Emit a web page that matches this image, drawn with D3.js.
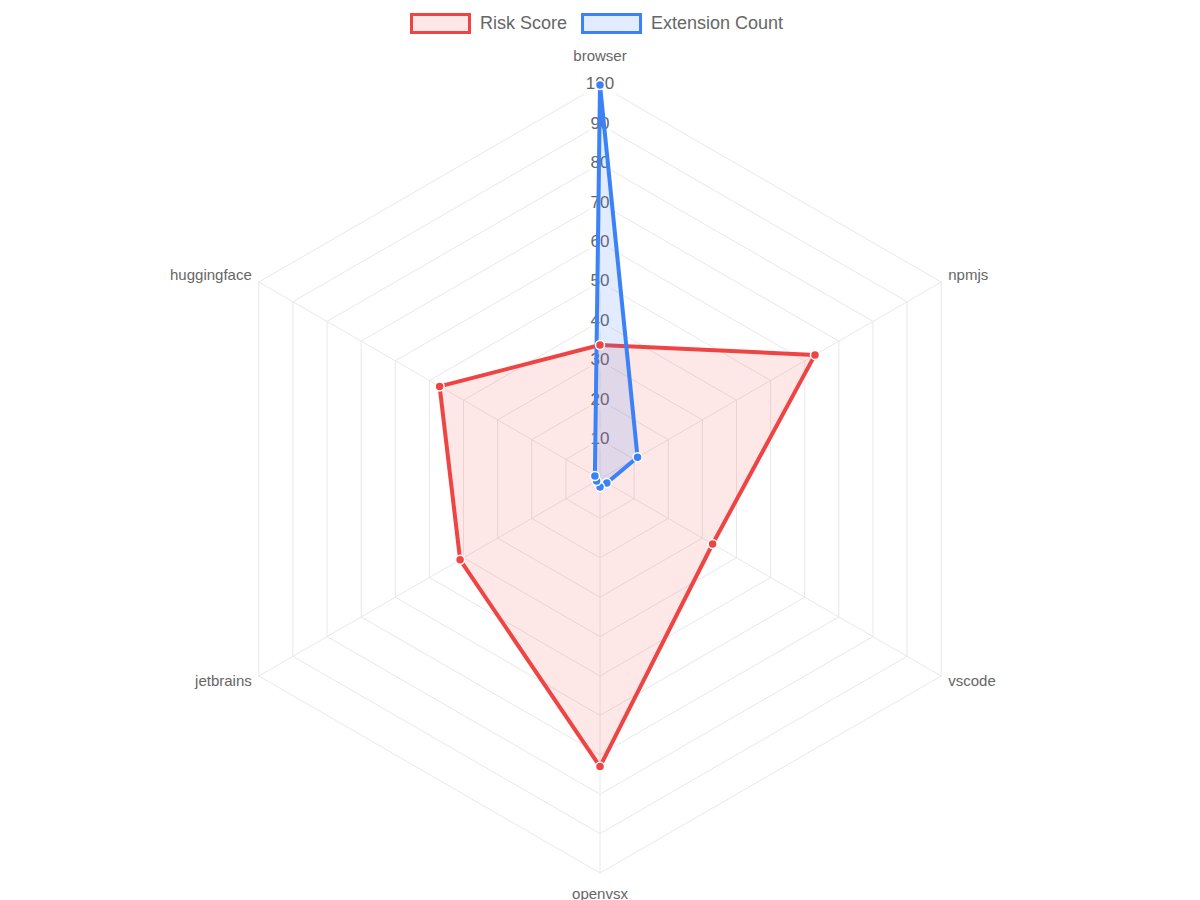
<!DOCTYPE html>
<html>
<head>
<meta charset="utf-8">
<script src="https://cdn.jsdelivr.net/npm/d3@7"></script>
<style>
  body { margin: 0; background: #fff; }
  text { font-family: "Liberation Sans", Arial, sans-serif; }
</style>
</head>
<body>
<div id="chart"></div>
<script>
const width = 1200;
const height = 900;
const cx = 600;
const cy = 479;
const radius = 394;

const categories = ["browser", "npmjs", "vscode", "openvsx", "jetbrains", "huggingface"];
const riskScore = [34, 63, 33, 73, 41, 47];
const extensionCount = [100, 11, 2, 2, 1, 1.5];
const tickValues = [10, 20, 30, 40, 50, 60, 70, 80, 90, 100];

const series = [
  { name: "Risk Score", values: riskScore, stroke: "#ef4444", fill: "rgba(239,68,68,0.13)" },
  { name: "Extension Count", values: extensionCount, stroke: "#3b82f6", fill: "rgba(59,130,246,0.15)" }
];

const svg = d3.select("#chart").append("svg")
  .attr("width", width)
  .attr("height", height);

const r = d3.scaleLinear([0, 100], [0, radius]);
const angle = d3.scalePoint(categories, [0, 2 * Math.PI * (categories.length - 1) / categories.length]);
const px = (c, v) => cx + r(v) * Math.sin(angle(c));
const py = (c, v) => cy - r(v) * Math.cos(angle(c));

const g = svg.append("g");

// grid hexagons
g.selectAll(".ring")
  .data(tickValues)
  .join("polygon")
  .attr("points", t => categories.map(c => px(c, t) + "," + py(c, t)).join(" "))
  .attr("fill", "none")
  .attr("stroke", "#e8e8e8")
  .attr("stroke-width", 1);

// spokes
g.selectAll(".spoke")
  .data(categories)
  .join("line")
  .attr("x1", cx).attr("y1", cy)
  .attr("x2", c => px(c, 100)).attr("y2", c => py(c, 100))
  .attr("stroke", "#e8e8e8");

// point labels
const side = c => Math.abs(Math.sin(angle(c))) < 0.01 ? 0 : Math.sign(Math.sin(angle(c)));
g.selectAll(".plabel")
  .data(categories)
  .join("text")
  .attr("x", c => side(c) === 0 ? px(c, 100) : px(c, 100) + side(c) * 7)
  .attr("y", c => side(c) === 0 ? py(c, 100) - Math.cos(angle(c)) * 28 + (Math.cos(angle(c)) < 0 ? -6 : 0) : py(c, 100) - Math.cos(angle(c)) * 12)
  .attr("text-anchor", c => side(c) === 0 ? "middle" : (side(c) > 0 ? "start" : "end"))
  .attr("dominant-baseline", "middle")
  .attr("font-size", 15)
  .attr("fill", "#666")
  .text(d => d);

// tick labels with backdrop (drawn below the datasets)
const ticks = g.selectAll(".tick").data(tickValues).join("g")
  .attr("transform", t => `translate(${cx},${cy - r(t)})`);
ticks.append("rect")
  .attr("x", t => t === 100 ? -16 : -11).attr("y", -10)
  .attr("width", t => t === 100 ? 32 : 22).attr("height", 20)
  .attr("fill", "rgba(255,255,255,0.75)");
ticks.append("text")
  .attr("text-anchor", "middle")
  .attr("dominant-baseline", "middle")
  .attr("font-size", 17)
  .attr("fill", "#666")
  .text(d => d);

// datasets
const line = d3.lineRadial().angle((d, i) => angle(categories[i])).radius(d => r(d)).curve(d3.curveLinearClosed);
series.forEach(s => {
  g.append("path")
    .attr("transform", `translate(${cx},${cy})`)
    .attr("d", line(s.values))
    .attr("fill", s.fill)
    .attr("stroke", s.stroke)
    .attr("stroke-width", 4)
    .attr("stroke-linejoin", "round");
});
series.forEach(s => {
  g.selectAll(null)
    .data(s.values)
    .join("circle")
    .attr("cx", (d, i) => px(categories[i], d))
    .attr("cy", (d, i) => py(categories[i], d))
    .attr("r", 4.5)
    .attr("fill", s.stroke)
    .attr("stroke", "#fff")
    .attr("stroke-width", 1.5);
});

// legend
const legend = svg.append("g").attr("transform", "translate(410,13)");
let lx = 0;
series.forEach(s => {
  const item = legend.append("g").attr("transform", `translate(${lx},0)`);
  item.append("rect")
    .attr("x", 1.5).attr("y", 1.5).attr("width", 58).attr("height", 18)
    .attr("fill", s.fill).attr("stroke", s.stroke).attr("stroke-width", 3);
  const t = item.append("text")
    .attr("x", 70).attr("y", 11.5)
    .attr("dominant-baseline", "middle")
    .attr("font-size", 18)
    .attr("fill", "#666")
    .text(s.name);
  lx += 70 + t.node().getComputedTextLength() + 14;
});
</script>
</body>
</html>
